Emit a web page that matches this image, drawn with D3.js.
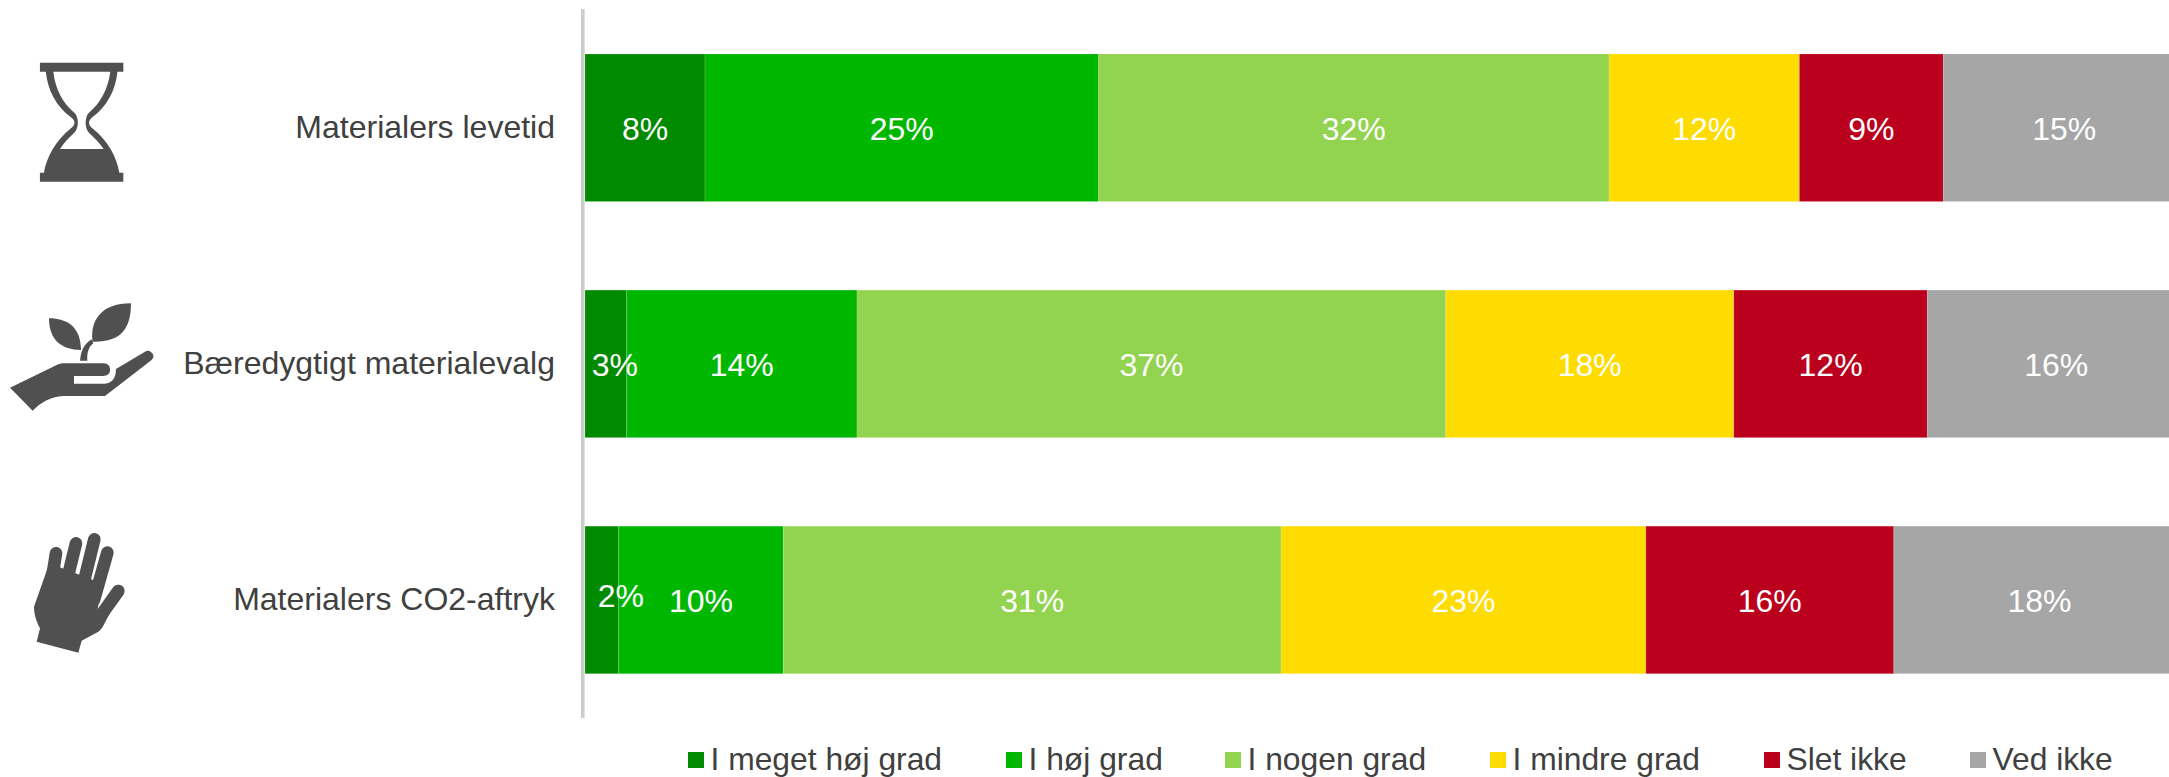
<!DOCTYPE html>
<html lang="da"><head><meta charset="utf-8">
<style>html,body{margin:0;padding:0;background:#fff;overflow:hidden}svg{display:block}text{font-family:"Liberation Sans",Arial,sans-serif}</style>
<script src="https://cdn.jsdelivr.net/npm/d3@7"></script></head><body>
<svg id="c" width="2169" height="777"></svg>
<script>
const categories=["Materialers levetid","Bæredygtigt materialevalg","Materialers CO2-aftryk"];
const seriesNames=["I meget høj grad","I høj grad","I nogen grad","I mindre grad","Slet ikke","Ved ikke"];
const seriesColors=["#008a00","#00b700","#92d350","#ffdc00","#bb001e","#a6a6a6"];
const meget=[7.5,2.6,2.1];
const hoej=[24.6,14.4,10.3];
const nogen=[31.9,36.8,31.1];
const mindre=[11.9,18.0,22.8];
const slet=[9.0,12.1,15.5];
const vedIkke=[15.1,16.1,18.2];
const seriesValues=[meget,hoej,nogen,mindre,slet,vedIkke];

// layout
const W=2169,H=777;
const svg=d3.select("#c");
const table=categories.map((c,i)=>{const o={cat:c};seriesNames.forEach((s,j)=>o[s]=seriesValues[j][i]);return o;});
const x=d3.scaleLinear().domain([0,100]).range([585,2185]);
const y=d3.scaleBand().domain(categories).range([54,673.7]).paddingInner(.375).paddingOuter(0);
const stacked=d3.stack().keys(seriesNames)(table);
const color=d3.scaleOrdinal(seriesNames,seriesColors);
const FS=32, LEG_FS=31.8, TXT="#404040";

const groups=svg.append("g").selectAll("g").data(stacked).join("g").attr("fill",d=>color(d.key));
groups.selectAll("rect").data(d=>d).join("rect")
  .attr("x",d=>x(d[0])).attr("width",d=>x(d[1])-x(d[0]))
  .attr("y",d=>y(d.data.cat)).attr("height",y.bandwidth())
  .attr("stroke","#fff").attr("stroke-opacity",.15).attr("stroke-width",1);

// data labels, in their own layer; the two narrow segments have their labels pushed to the right
const nudge=(k,cat)=>k!==seriesNames[0]?[0,0]:cat===categories[1]?[9,0]:cat===categories[2]?[19,-5]:[0,0];
const labelData=stacked.flatMap(s=>s.map(v=>({v,key:s.key})));
svg.append("g").selectAll("text").data(labelData).join("text")
  .attr("x",d=>(x(d.v[0])+x(d.v[1]))/2+nudge(d.key,d.v.data.cat)[0])
  .attr("y",d=>y(d.v.data.cat)+y.bandwidth()/2+nudge(d.key,d.v.data.cat)[1])
  .attr("dy","0.37em").attr("text-anchor","middle").attr("fill","#fff").attr("font-size",FS)
  .text(d=>Math.round(d.v[1]-d.v[0])+"%");

// axis
svg.append("rect").attr("x",581).attr("y",9).attr("width",3.6).attr("height",709).attr("fill","#cdcdcd");
const ax=svg.append("g").attr("transform","translate(585,0)").call(d3.axisLeft(y).tickSize(0).tickPadding(30));
ax.select(".domain").remove();
ax.selectAll("text").attr("font-size",FS).attr("fill",TXT).attr("font-family",'"Liberation Sans",Arial,sans-serif');

// legend
const legendSwatchX=[688,1006,1225,1490,1764,1970];
const lg=svg.append("g").selectAll("g").data(seriesNames).join("g").attr("transform",(d,i)=>`translate(${legendSwatchX[i]},752)`);
lg.append("rect").attr("width",16).attr("height",16).attr("fill",d=>color(d));
lg.append("text").attr("x",22.5).attr("y",18.3).attr("font-size",LEG_FS).attr("fill",TXT).text(d=>d);

// icons
const ic="#505050";
svg.append("path").attr("transform","scale(0.3953,0.3333)").attr("fill",ic).attr("fill-rule","evenodd")
 .attr("d","M101 188H312V215H297C293 270 270 320 235 350C222 362 222 374 235 386C272 420 295 470 302 518H312V545H101V518H111C118 470 142 420 178 386C192 374 192 362 178 350C143 320 120 270 116 215H101Z M135 215C140 270 160 310 188 338C200 350 200 385 188 398C172 415 160 430 152 447H262C253 430 241 415 225 398C214 385 214 350 225 338C253 310 273 270 279 215Z");
svg.append("path").attr("transform","translate(0,290) scale(0.3333)").attr("fill",ic)
 .attr("d","M393 40C393 115 365 157 278 155C270 95 300 40 393 40Z M147 85C200 85 243 110 243 180C185 180 147 150 147 85Z M240 212C244 180 250 165 275 148L280 160C266 170 260 190 262 212Z M30 293L170 225C175 222 185 220 195 220H310C325 220 332 230 330 243C328 255 318 258 305 258H222V281H315C335 280 348 265 348 237L435 185C445 178 455 185 460 195C462 202 458 207 452 212L315 318H190C150 320 120 340 98 362Z");
const hand=svg.append("g").attr("transform","translate(20,520) scale(0.3333)");
hand.append("path").attr("fill",ic).attr("d","M88 130L42 260C42 285 50 305 60 325L50 365L175 398L185 362L235 335C245 328 250 318 256 305L280 260L232 276L245 190Z");
hand.selectAll("line").data([[86,240,108,100],[130,225,168,70],[182,225,223,58],[222,240,262,98],[240,290,295,213]]).join("line")
 .attr("x1",d=>d[0]).attr("y1",d=>d[1]).attr("x2",d=>d[2]).attr("y2",d=>d[3])
 .attr("stroke",ic).attr("stroke-width",38).attr("stroke-linecap","round");
</script></body></html>
